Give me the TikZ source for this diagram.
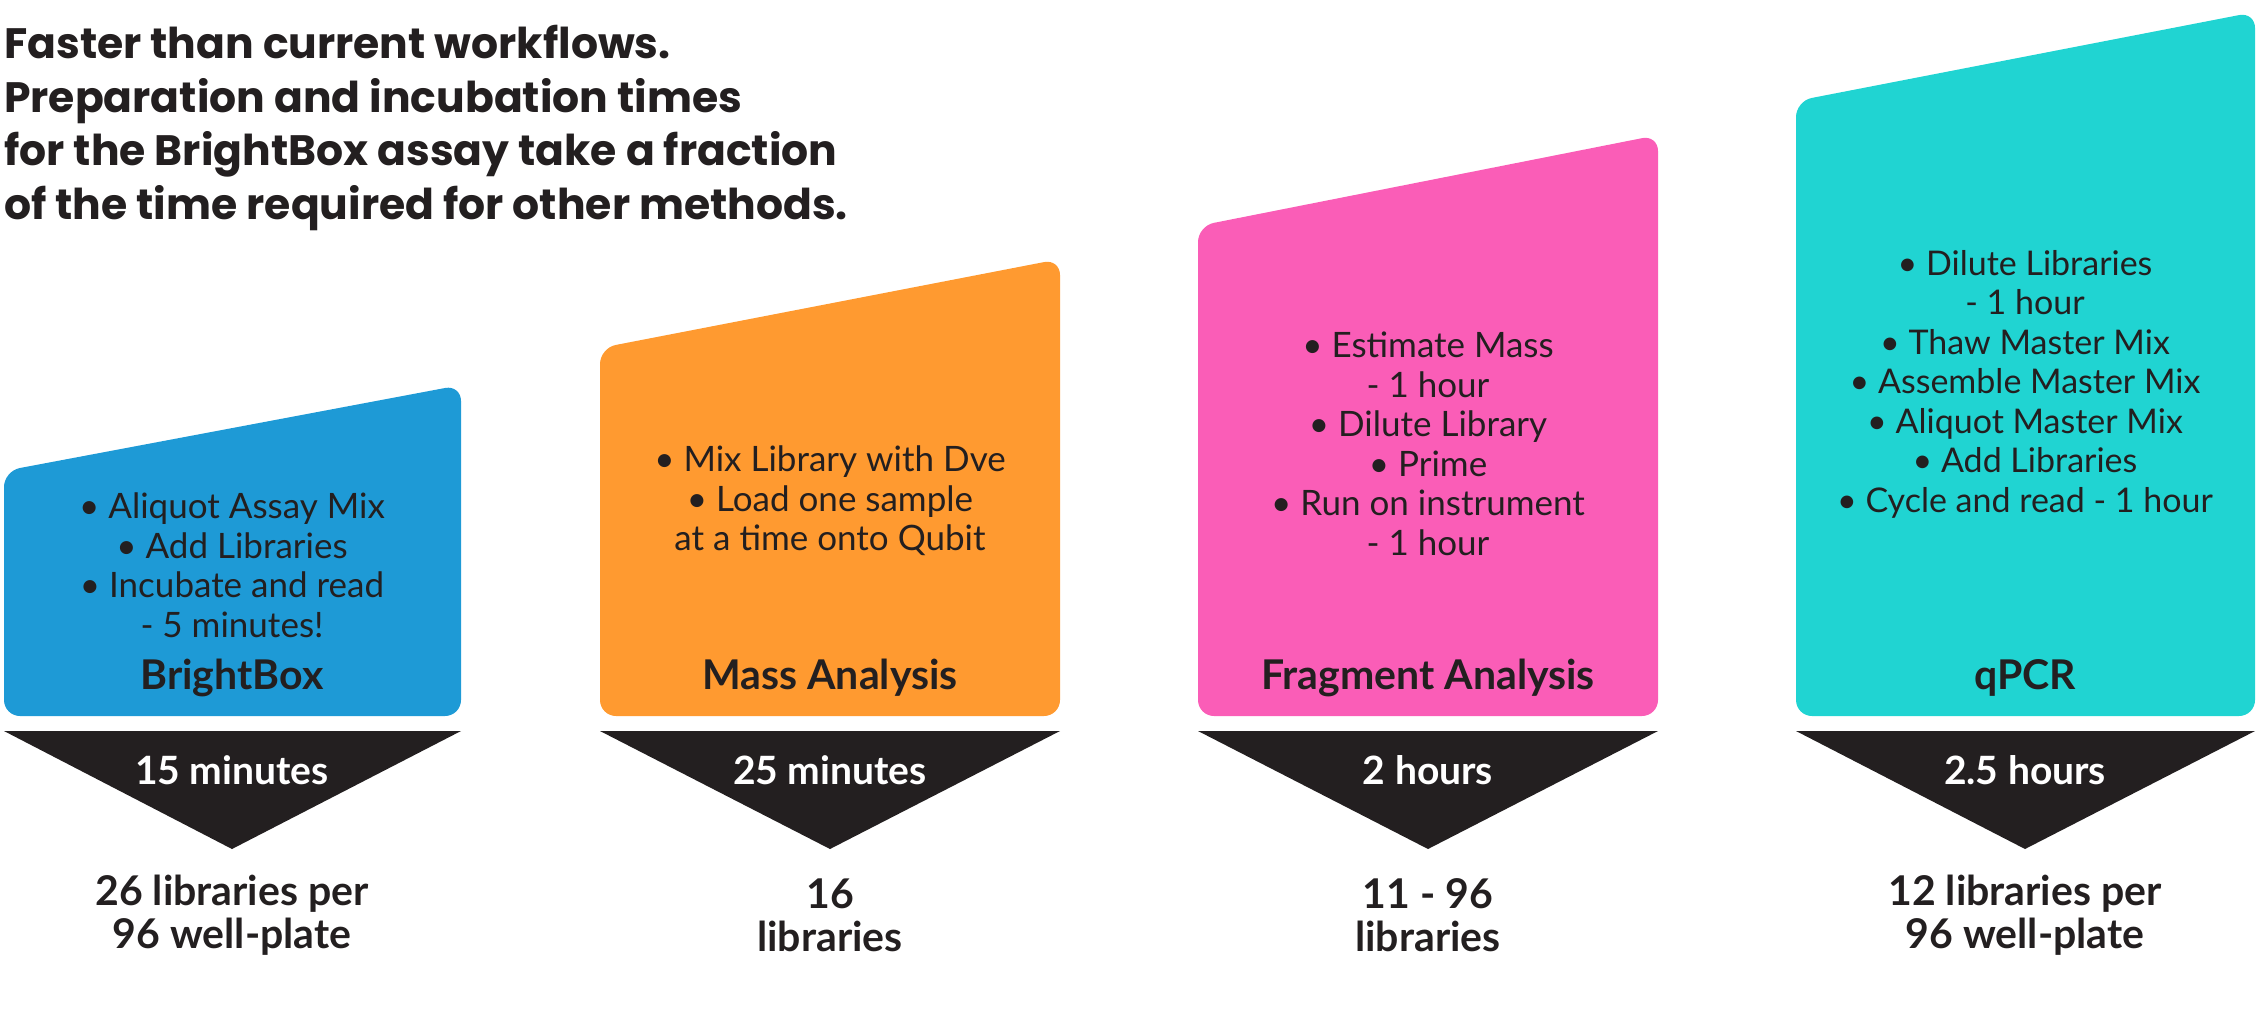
\documentclass[tikz,border=0pt]{standalone}
\usepackage{fontspec}
\setmainfont{Lato}
\newfontfamily\titlefont{Poppins}
\definecolor{bbblue}{RGB}{30,154,214}
\definecolor{maorange}{RGB}{255,154,48}
\definecolor{frpink}{RGB}{250,93,183}
\definecolor{qpcyan}{RGB}{32,212,210}
\definecolor{ink}{RGB}{35,31,32}
\tikzset{
  panel/.style={rounded corners=16pt},
  bodytext/.style={align=center, text=ink, font=\fontsize{35}{39.5}\selectfont, inner sep=0pt},
  paneltitle/.style={text=ink, font=\fontsize{41}{44}\selectfont\bfseries, inner sep=0pt},
  timetext/.style={text=white, font=\fontsize{39}{42}\selectfont\bfseries, inner sep=0pt},
  counttext/.style={align=center, text=ink, font=\fontsize{41}{43}\selectfont\bfseries, inner sep=0pt},
  arrowtri/.style={fill=ink},
}
\begin{document}
\begin{tikzpicture}[x=1pt,y=-1pt]
\useasboundingbox (0,0) rectangle (2258,1018);
% heading
\node[anchor=west, align=left, text=ink, inner sep=0pt,
  font=\titlefont\fontsize{42.5}{53.5}\selectfont\bfseries] (heading) at (4,128)
  {Faster than current workflows.\\Preparation and incubation times\\for the BrightBox assay take a fraction\\of the time required for other methods.};
% panels
\fill[bbblue, panel] (4,471) -- (461,385) -- (461,716) -- (4,716) -- cycle;
\fill[maorange, panel] (600,348) -- (1060,259) -- (1060,716) -- (600,716) -- cycle;
\fill[frpink, panel] (1198,226) -- (1658,135) -- (1658,716) -- (1198,716) -- cycle;
\fill[qpcyan, panel] (1796,101) -- (2255,12) -- (2255,716) -- (1796,716) -- cycle;
% triangles
\fill[arrowtri] (4,731) -- (461,731) -- (232,849) -- cycle;
\fill[arrowtri] (600,731) -- (1060,731) -- (830,849) -- cycle;
\fill[arrowtri] (1198,731) -- (1658,731) -- (1428,849) -- cycle;
\fill[arrowtri] (1796,731) -- (2255,731) -- (2025,849) -- cycle;
% body texts
\node[bodytext] (bbbody) at (232,565) {\textbullet\ Aliquot Assay Mix\\\textbullet\ Add Libraries\\\textbullet\ Incubate and read\\- 5 minutes!};
\node[bodytext] (mabody) at (830,501) {\textbullet\ Mix Library with Dve\\\textbullet\ Load one sample\\at a time onto Qubit};
\node[bodytext] (frbody) at (1428,444) {\textbullet\ Estimate Mass\\- 1 hour\\\textbullet\ Dilute Library\\\textbullet\ Prime\\\textbullet\ Run on instrument\\- 1 hour};
\node[bodytext, font=\fontsize{34}{39.5}\selectfont] (qpbody) at (2025,384) {\textbullet\ Dilute Libraries\\- 1 hour\\\textbullet\ Thaw Master Mix\\\textbullet\ Assemble Master Mix\\\textbullet\ Aliquot Master Mix\\\textbullet\ Add Libraries\\\textbullet\ Cycle and read - 1 hour};
% panel titles
\node[paneltitle] (bbtitle) at (232,678) {BrightBox};
\node[paneltitle] (matitle) at (830,678) {Mass Analysis};
\node[paneltitle] (frtitle) at (1428,678) {Fragment Analysis};
\node[paneltitle] (qptitle) at (2025,678) {qPCR};
% times
\node[timetext] (bbtime) at (232,770) {15 minutes};
\node[timetext] (matime) at (830,770) {25 minutes};
\node[timetext] (frtime) at (1428,770) {2 hours};
\node[timetext] (qptime) at (2025,770) {2.5 hours};
% counts
\node[counttext] (bbcount) at (232,915) {26 libraries per\\96 well-plate};
\node[counttext] (macount) at (830,915) {16\\libraries};
\node[counttext] (frcount) at (1428,915) {11 - 96\\libraries};
\node[counttext] (qpcount) at (2025,915) {12 libraries per\\96 well-plate};
\end{tikzpicture}
\end{document}
